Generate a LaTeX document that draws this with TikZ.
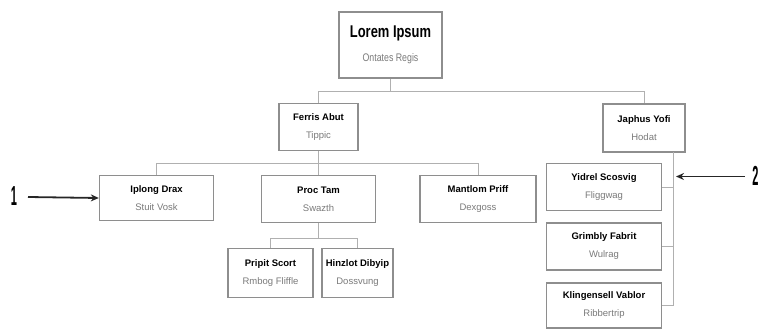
\documentclass[tikz,border=0pt]{standalone}
\usepackage{fontspec}
\setmainfont{Liberation Sans}
\usetikzlibrary{arrows.meta}
\definecolor{boxline}{HTML}{8E8E8E}
\definecolor{linkline}{HTML}{B0B0B0}
\definecolor{subtext}{HTML}{7A7A7A}
\newcommand{\pname}[2]{\textbf{#1}\\\textcolor{subtext}{#2}}
\begin{document}
\begin{tikzpicture}[x=1pt,y=-1pt,
  card/.style={draw=boxline,line width=1.4pt,fill=white,rectangle,inner sep=0pt,align=center,
    font={\fontsize{9.5}{18}\selectfont}},
  link/.style={draw=linkline,line width=0.9pt},
  pointer/.style={draw=black!85,line width=1.8pt,-{Stealth[length=8pt,width=7pt]}},
  marker/.style={font={\bfseries\fontsize{22}{22}\selectfont}}]
\useasboundingbox (0,0) rectangle (762,329);
% root
\node[card,minimum width=103pt,minimum height=66pt] (root) at (390.5,45)
  {\scalebox{0.76}[1]{\fontsize{17}{17}\selectfont\textbf{Lorem Ipsum}}\\[6pt]
   \scalebox{0.8}[1]{\fontsize{11}{11}\selectfont\textcolor{subtext}{Ontates Regis}}};
% level 1
\node[card,minimum width=79pt,minimum height=47pt] (ferris) at (318.5,127) {\pname{Ferris Abut}{Tippic}};
\node[card,minimum width=82pt,minimum height=48pt] (japhus) at (644,128) {\pname{Japhus Yofi}{Hodat}};
% level 2
\node[card,minimum width=114pt,minimum height=45pt] (iplong) at (156.5,198) {\pname{Iplong Drax}{Stuit Vosk}};
\node[card,minimum width=114pt,minimum height=47pt] (proc) at (318.5,199) {\pname{Proc Tam}{Swazth}};
\node[card,minimum width=116pt,minimum height=47pt] (mantlom) at (478,199) {\pname{Mantlom Priff}{Dexgoss}};
% level 3
\node[card,minimum width=85pt,minimum height=49pt] (pripit) at (270.5,273) {\pname{Pripit Scort}{Rmbog Fliffle}};
\node[card,minimum width=71pt,minimum height=49pt] (hinzlot) at (357.5,273) {\pname{Hinzlot Dibyip}{Dossvung}};
% Japhus children
\node[card,minimum width=115pt,minimum height=47pt] (yidrel) at (604,187) {\pname{Yidrel Scosvig}{Fliggwag}};
\node[card,minimum width=115pt,minimum height=47pt] (grimbly) at (604,246.5) {\pname{Grimbly Fabrit}{Wulrag}};
\node[card,minimum width=115pt,minimum height=45pt] (kling) at (604,305.5) {\pname{Klingensell Vablor}{Ribbertrip}};
% connectors
\coordinate (bar1) at (390.5,91);
\coordinate (bar2) at (318.5,163);
\coordinate (bar3) at (318.5,238);
\coordinate (jtop) at (673,152);
\draw[link] (root.south) -- (bar1) -| (ferris.north);
\draw[link] (bar1) -| (japhus.north);
\draw[link] (ferris.south) -- (bar2) -| (iplong.north);
\draw[link] (bar2) -- (proc.north);
\draw[link] (bar2) -| (mantlom.north);
\draw[link] (proc.south) -- (bar3) -| (pripit.north);
\draw[link] (bar3) -| (hinzlot.north);
\draw[link] (jtop) |- (kling.east);
\draw[link] (jtop |- yidrel.east) -- (yidrel.east);
\draw[link] (jtop |- grimbly.east) -- (grimbly.east);
% pointers
\node[marker] (m1) at (14,196) {\scalebox{0.5}[1.25]{1}};
\coordinate (p1) at (28,197);
\draw[pointer] (p1) -- (iplong.west);
\node[marker] (m2) at (755.5,176) {\scalebox{0.5}[1.25]{2}};
\coordinate (p2) at (745,176.5);
\coordinate (p2end) at (676,176.5);
\draw[pointer] (p2) -- (p2end);
\end{tikzpicture}
\end{document}
